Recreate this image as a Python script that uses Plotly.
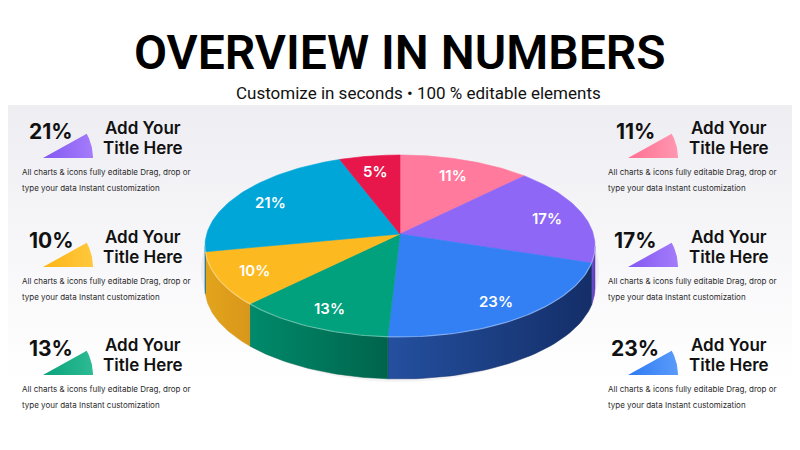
import math
import plotly.graph_objects as go

# pie shares, clockwise from 12 o'clock
shares = [11, 17, 23, 13, 10, 21, 5]
labels = ["11%", "17%", "23%", "13%", "10%", "21%", "5%"]
top_colors = ["#FF7A9C", "#8E67F6", "#3380F5", "#00A17C", "#FDB920", "#00A6D8", "#E8174B"]
wall_light = ["#E0607F", "#7350D8", "#24509F", "#008A6B", "#E2A41C", "#0088B6", "#B80F38"]
wall_dark = ["#B84A66", "#5B3DB0", "#142E68", "#00644B", "#D9971A", "#006E94", "#900A2C"]

# side cards
left_values = [21, 10, 13]
left_colors = ["#8358F2", "#FDB515", "#0AA27C"]
left_light = ["#A47CFA", "#FFC83E", "#2DBB93"]
right_values = [11, 17, 23]
right_colors = ["#FF6F92", "#8358F2", "#2F7BF4"]
right_light = ["#FF97B0", "#A47CFA", "#5A9BFA"]
card_title = ["Add Your", "Title Here"]
card_text = ["All charts & icons fully editable Drag, drop or",
             "type your data Instant customization"]

title = "OVERVIEW IN NUMBERS"
subtitle = "Customize in seconds \u2022 100 % editable elements"

FONT = "Inter"
OFF = 8  # page body margin of the browser, figure sits inside it

fig = go.Figure()

# soft header band
fig.add_trace(go.Scatter(
    x=[0, 810, 810, 0, 0], y=[105, 105, 460, 460, 105], mode="lines",
    fill="toself", line=dict(width=0),
    fillgradient=dict(type="vertical", colorscale=[[0, "#EEEDF2"], [1, "#FFFFFF"]],
                      start=105, stop=380),
    hoverinfo="skip", showlegend=False))

# pie geometry
cx, cy, rx, ry = 400, 246, 195, 91
apex = (400, 234)
depth = 42


def rim(deg):
    t = math.radians(deg)
    return cx + rx * math.sin(t), cy - ry * math.cos(t)


def arc(a, b, n=60):
    pts = [rim(a + (b - a) * i / n) for i in range(n + 1)]
    return [p[0] for p in pts], [p[1] for p in pts]


# faint halo under pie
xs = [cx + (rx + 4) * math.sin(math.radians(d)) for d in range(0, 361, 4)]
ys = [cy + depth / 2 + 3 + (ry + depth / 2) * math.cos(math.radians(d)) for d in range(0, 361, 4)]
fig.add_trace(go.Scatter(x=xs, y=ys, mode="lines", fill="toself", line=dict(width=0),
                         fillcolor="rgba(60,50,90,0.06)", hoverinfo="skip",
                         showlegend=False))

total = sum(shares)
bounds = [0]
for s in shares:
    bounds.append(bounds[-1] + 360 * s / total)

# walls (front half only)
for i in range(len(shares)):
    a, b = max(bounds[i], 90), min(bounds[i + 1], 270)
    if b <= a:
        continue
    xs, ys = arc(a, b, 40)
    wx = xs + xs[::-1] + [xs[0]]
    wy = ys + [y + depth for y in ys[::-1]] + [ys[0]]
    fig.add_trace(go.Scatter(
        x=wx, y=wy, mode="lines", fill="toself", line=dict(width=0.5, color=wall_dark[i]),
        fillgradient=dict(type="horizontal",
                          colorscale=[[0, wall_light[i]], [1, wall_dark[i]]],
                          start=min(xs), stop=max(xs)),
        hoverinfo="skip", showlegend=False))

# top face slices
for i in range(len(shares)):
    xs, ys = arc(bounds[i], bounds[i + 1])
    fig.add_trace(go.Scatter(
        x=[apex[0]] + xs + [apex[0]], y=[apex[1]] + ys + [apex[1]], mode="lines",
        fill="toself", fillcolor=top_colors[i], line=dict(width=0.6, color=top_colors[i]),
        hoverinfo="skip", showlegend=False))

# light rim edge on the front
hx, hy = arc(90, 270, 120)
fig.add_trace(go.Scatter(x=hx, y=hy, mode="lines",
                         line=dict(width=1.2, color="rgba(255,255,255,0.35)"),
                         hoverinfo="skip", showlegend=False))

ann = []
for i in range(len(shares)):
    mid = (bounds[i] + bounds[i + 1]) / 2
    px_, py_ = rim(mid)
    lx = apex[0] + 0.8 * (px_ - apex[0])
    ly = apex[1] + 0.8 * (py_ - apex[1])
    ann.append(dict(x=lx, y=ly, text=labels[i], showarrow=False,
                    font=dict(family=FONT, size=15, color="white", weight=600)))


def wedge(ax, ay, c0, c1, r=50, ang=29):
    pts = [(ax, ay)] + [(ax + r * math.cos(math.radians(ang * i / 20)),
                         ay - r * math.sin(math.radians(ang * i / 20))) for i in range(21)]
    pts.append((ax, ay))
    xs = [p[0] for p in pts]
    fig.add_trace(go.Scatter(
        x=xs, y=[p[1] for p in pts], mode="lines", fill="toself", line=dict(width=0),
        fillgradient=dict(type="horizontal", colorscale=[[0, c0], [1, c1]],
                          start=ax, stop=ax + r),
        hoverinfo="skip", showlegend=False))


def card(val, c0, c1, x_pct, x_wedge, x_title, x_text, y):
    wedge(x_wedge, y + 27, c0, c1)
    ann.append(dict(x=x_pct, y=y, text="%d%%" % val, showarrow=False,
                    font=dict(family=FONT, size=21, color="#111111", weight=700)))
    for j, line in enumerate(card_title):
        ann.append(dict(x=x_title, y=y - 3 + 20 * j, text=line, showarrow=False,
                        font=dict(family=FONT, size=17, color="#111111", weight=600)))
    for j, line in enumerate(card_text):
        ann.append(dict(x=x_text, y=y + 41 + 15.5 * j, text=line, showarrow=False,
                        xanchor="left", font=dict(family=FONT, size=8, color="#2A2A2A")))


row_y = [131, 240, 348]
for k in range(3):
    card(left_values[k], left_colors[k], left_light[k], 51, 43, 143, 20, row_y[k])
    card(right_values[k], right_colors[k], right_light[k], 635, 628, 729, 606, row_y[k])

ann.append(dict(x=400, y=52, text=title, showarrow=False,
                font=dict(family="Roboto", size=48, color="#000000", weight=600)))
ann.append(dict(x=418, y=93, text=subtitle, showarrow=False,
                font=dict(family="Roboto", size=17, color="#111111")))

fig.update_layout(
    width=800 - OFF, height=450 - OFF, autosize=False,
    margin=dict(l=0, r=0, t=0, b=0),
    paper_bgcolor="white", plot_bgcolor="white",
    xaxis=dict(range=[OFF, 800], visible=False, fixedrange=True),
    yaxis=dict(range=[450, OFF], visible=False, fixedrange=True),
    annotations=ann, showlegend=False)

fig.write_html("out.html")
